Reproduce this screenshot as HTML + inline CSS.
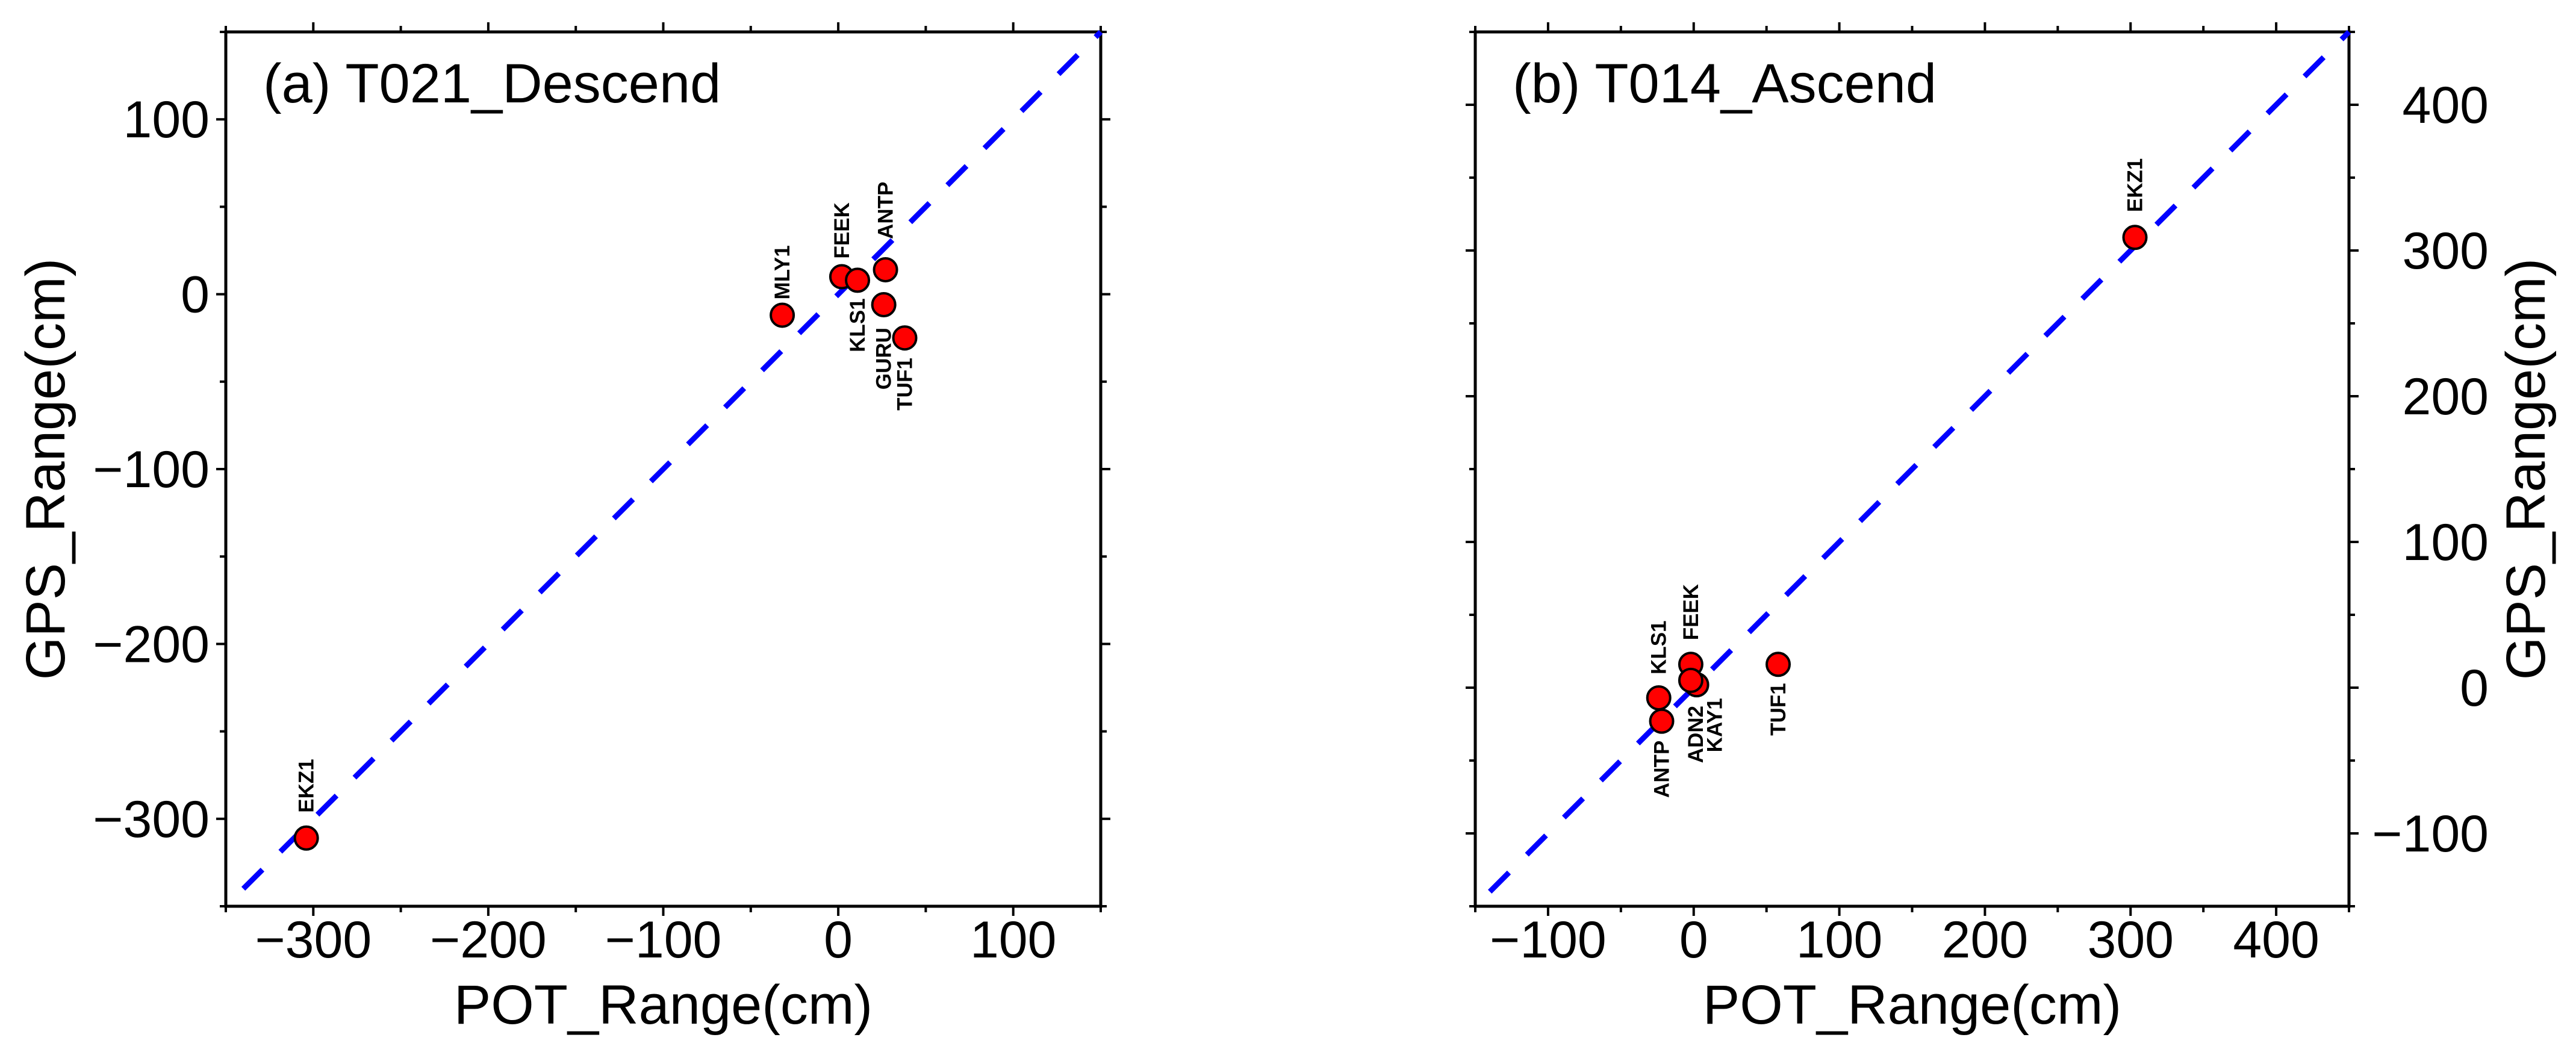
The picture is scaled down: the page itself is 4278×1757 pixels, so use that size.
<!DOCTYPE html>
<html><head><meta charset="utf-8"><style>
html,body{margin:0;padding:0;background:#fff;}
svg{display:block;}
text{font-family:"Liberation Sans",Arial,sans-serif;fill:#000;}
</style></head><body>
<svg id="chart" width="4278" height="1757" viewBox="0 0 4278 1757" xmlns="http://www.w3.org/2000/svg"></svg>
<script>
// Panel (a) T021_Descend data
const stationsA = ["EKZ1","MLY1","FEEK","KLS1","ANTP","GURU","TUF1"];
const potA = [-304,-32,2,11,27,26,38];
const gpsA = [-311,-12,10,8,14,-6,-25];
// Panel (b) T014_Ascend data
const stationsB = ["EKZ1","KLS1","ANTP","FEEK","KAY1","ADN2","TUF1"];
const potB = [303,-24,-22,-2,2,-2,58];
const gpsB = [309,-7,-23,16,2,5,16];
// Tick values
const ticksA = [-300,-200,-100,0,100];
const ticksB = [-100,0,100,200,300,400];
const domainA = [-350,150];
const domainB = [-150,450];

// label placement styles (pixel offsets: side, dx, gap)
const labStyleA = {EKZ1:[-1,0,42],MLY1:[-1,0,26],FEEK:[-1,0,30],KLS1:[1,0,30],ANTP:[-1,0,51],GURU:[1,0,38],TUF1:[1,0,33]};
const labStyleB = {EKZ1:[-1,0,42],KLS1:[-1,0,39],ANTP:[1,0,32],FEEK:[-1,0,40],KAY1:[1,30,22],ADN2:[1,8,42],TUF1:[1,0,31]};

const NS="http://www.w3.org/2000/svg";
const svg=document.getElementById('chart');
function mk(tag,attrs,parent){const e=document.createElementNS(NS,tag);for(const k in attrs)e.setAttribute(k,attrs[k]);(parent||svg).appendChild(e);return e;}

function panel(cfg){
  const g=mk('g',{});
  
  
  const L=cfg.left,R=cfg.right,T=53,B=1505;
  const d=cfg.domain;
  const sx=v=>L+(v-d[0])/(d[1]-d[0])*(R-L);
  const sy=v=>B-(v-d[0])/(d[1]-d[0])*(B-T);
  // minor/major ticks on all sides every 50
  for(let v=Math.ceil(d[0]/50)*50; v<=d[1]; v+=50){
    const major = v%100===0;
    const len = major?16:10;
    const x=sx(v), y=sy(v);
    const t1=mk('line',{x1:x,y1:B,x2:x,y2:B+len,stroke:'#000','stroke-width':4},g);
    
    
    const t2=mk('line',{x1:x,y1:T,x2:x,y2:T-len,stroke:'#000','stroke-width':4},g);
    
    
    const t3=mk('line',{x1:L,y1:y,x2:L-len,y2:y,stroke:'#000','stroke-width':4},g);
    
    
    const t4=mk('line',{x1:R,y1:y,x2:R+len,y2:y,stroke:'#000','stroke-width':4},g);
    
    
  }
  cfg.ticks.forEach(v=>{
    const lab=v<0?'\u2212'+Math.abs(v):String(v);
    const tx=mk('text',{x:sx(v),y:1590,'font-size':86,'text-anchor':'middle'},g);
    tx.textContent=lab;
    
    
    const ty=mk('text',{x:cfg.yLabRight?4133:348,y:sy(v)+30,'font-size':86,'text-anchor':'end'},g);
    ty.textContent=lab;
    
    
  });
  // frame
  const fr=mk('rect',{x:L,y:T,width:R-L,height:B-T,fill:'none',stroke:'#000','stroke-width':5},g);
  
  
  // 1:1 line
  const a=d[0]+10,b=d[1];
  const ln=mk('line',{x1:sx(a),y1:sy(a),x2:sx(b),y2:sy(b),stroke:'#0000ff','stroke-width':9,'stroke-dasharray':'45 42'},g);
  
  
  // points and labels
  cfg.names.forEach((n,i)=>{
    const cx=sx(cfg.xs[i]),cy=sy(cfg.ys[i]);
    const c=mk('circle',{cx:cx,cy:cy,r:19,fill:'#ff0000',stroke:'#000','stroke-width':4},g);
    
    
  });
  cfg.names.forEach((n,i)=>{
    const cx=sx(cfg.xs[i]),cy=sy(cfg.ys[i]);
    const st=cfg.lab[n];
    const lx=cx+st[1]+12, ly=cy+st[0]*st[2];
    const t=mk('text',{x:lx,y:ly,'font-size':35,'font-weight':'bold','text-anchor':st[0]<0?'start':'end',transform:`rotate(-90 ${lx} ${ly})`},g);
    t.textContent=n;
    
    
  });
  const pt=mk('text',{x:L+62,y:170,'font-size':92},g);
  pt.textContent=cfg.title;
  
  
  const xt=mk('text',{x:(L+R)/2,y:1700,'font-size':92,'text-anchor':'middle'},g);
  xt.textContent='POT_Range(cm)';
  
  
  const yx=cfg.yLabRight?4226:107, yy=779;
  const yt=mk('text',{x:yx,y:yy,'font-size':92,'text-anchor':'middle',transform:`rotate(-90 ${yx} ${yy})`},g);
  yt.textContent='GPS_Range(cm)';
  
  
}
panel({name:'panel-a-t021-descend',left:375,right:1828,domain:domainA,ticks:ticksA,names:stationsA,xs:potA,ys:gpsA,lab:labStyleA,title:'(a) T021_Descend',yLabRight:false});
panel({name:'panel-b-t014-ascend',left:2450,right:3901,domain:domainB,ticks:ticksB,names:stationsB,xs:potB,ys:gpsB,lab:labStyleB,title:'(b) T014_Ascend',yLabRight:true});
</script>
</body></html>
